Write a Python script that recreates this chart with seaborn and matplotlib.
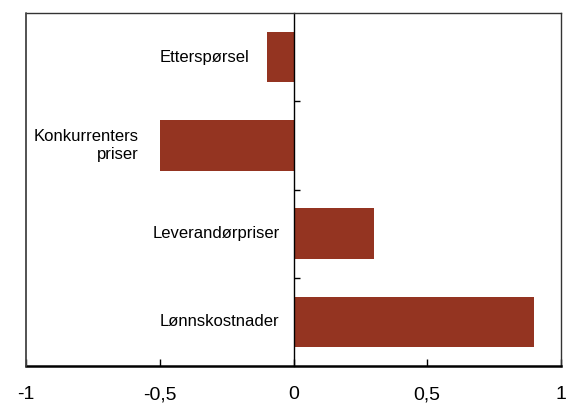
import matplotlib
matplotlib.use("Agg")
import matplotlib.pyplot as plt
import seaborn as sns
import pandas as pd

categories = ["Etterspørsel", "Konkurrenters\npriser", "Leverandørpriser", "Lønnskostnader"]
values = [-0.10, -0.50, 0.30, 0.90]
xticks = [-1, -0.5, 0, 0.5, 1]
xtick_labels = ["-1", "-0,5", "0", "0,5", "1"]

# gap (pixels) between a label and the start of its bar / the zero line
label_gap_px = [17, 21, 14, 14]

bar_color = "#943421"
font = "Liberation Sans"

sns.set_theme(style="white")
plt.rcParams["font.family"] = [font, "DejaVu Sans"]

df = pd.DataFrame({"kategori": categories, "verdi": values})

fig = plt.figure(figsize=(5.66, 4.05), dpi=100)
ax = fig.add_axes([26 / 566, 1 - 366 / 405, (561 - 26) / 566, (366 - 13) / 405])

sns.barplot(data=df, x="verdi", y="kategori", orient="h", color=bar_color,
            saturation=1, width=0.57, linewidth=0, ax=ax)

ax.set_xlim(-1, 1)
ax.set_ylim(3.5, -0.5)
ax.set_xlabel("")
ax.set_ylabel("")

# x axis: inward ticks, comma decimals
ax.set_xticks(xticks)
ax.set_xticklabels(xtick_labels, fontsize=14, color="black")
ax.tick_params(axis="x", direction="in", length=5, width=1, color="black",
               pad=14.5, bottom=True)

# category axis sits on the zero line, ticks mark category boundaries
ax.spines["left"].set_position(("data", 0))
ax.spines["left"].set_color("black")
ax.spines["left"].set_linewidth(1)
ax.set_yticks([0.5, 1.5, 2.5])
ax.set_yticklabels([])
ax.tick_params(axis="y", direction="in", length=4.5, width=1, color="black", left=True)

for side in ("top", "right"):
    ax.spines[side].set_visible(True)
    ax.spines[side].set_color("#333333")
    ax.spines[side].set_linewidth(1)
ax.spines["bottom"].set_color("black")
ax.spines["bottom"].set_linewidth(1.8)

# outer frame on the left edge
ax.axvline(-1, color="#444444", lw=1.3, clip_on=False, zorder=5)

# category labels to the left of each bar
for i, (name, v, gap) in enumerate(zip(categories, values, label_gap_px)):
    ax.annotate(name, xy=(min(v, 0), i), xytext=(-gap, 0),
                textcoords="offset pixels", ha="right", va="center",
                multialignment="right", fontsize=12, color="black",
                linespacing=1.2)

fig.savefig("out.png", dpi=100)
